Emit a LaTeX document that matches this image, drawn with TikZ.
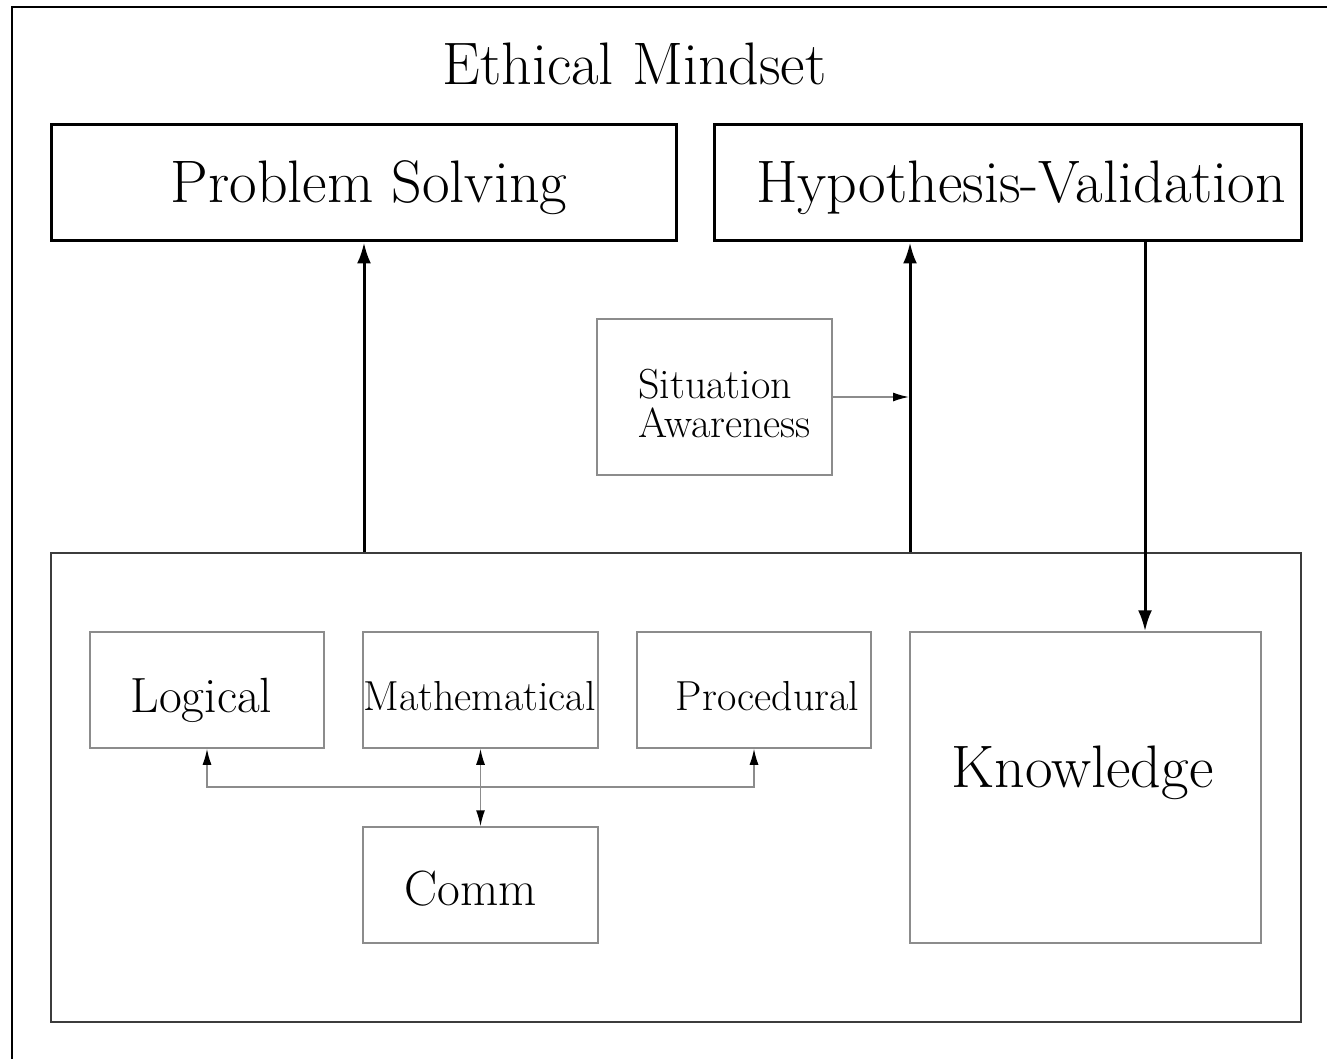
\documentclass[tikz,border=0pt]{standalone}
\usetikzlibrary{arrows.meta}
\definecolor{thingray}{HTML}{8C8C8C}
\definecolor{darkgray2}{HTML}{3C3C3C}
\begin{document}
\begin{tikzpicture}[x=1pt,y=-1pt,
  bigbox/.style={draw=black,line width=3pt,inner sep=0pt},
  thinbox/.style={draw=thingray,line width=1.5pt,inner sep=0pt},
  outerbox/.style={draw=darkgray2,line width=1.5pt,inner sep=0pt},
  bigtext/.style={anchor=base,inner sep=0pt,font=\fontsize{60}{64}\selectfont},
  midtext/.style={anchor=base,inner sep=0pt,font=\fontsize{49.5}{54}\selectfont},
  smalltext/.style={anchor=base,inner sep=0pt,font=\fontsize{42}{39}\selectfont},
  thickarrow/.style={line width=3pt,-{Latex[length=21pt,width=14pt]}},
  thinarrow/.style={draw=thingray,line width=1.5pt,-{Latex[length=16pt,width=9pt,color=black]}},
  boththin/.style={draw=thingray,line width=1.5pt,{Latex[length=16pt,width=9pt,color=black]}-{Latex[length=16pt,width=9pt,color=black]}}
]
\useasboundingbox (0,0) rectangle (1327,1059);
% outer frame (left and top edges visible)
\coordinate (frameBL) at (12,1059);
\coordinate (frameTL) at (12,7);
\coordinate (frameTR) at (1327,7);
\draw[line width=2pt] (frameBL) -- (frameTL) -- (frameTR);

\node[bigtext] (title) at (634.5,85) {Ethical Mindset};

% top boxes
\node[bigbox,minimum width=625pt,minimum height=116pt] (ps) at (363.5,183) {};
\node[bigtext] (pst) at (369,203) {Problem Solving};
\node[bigbox,minimum width=587pt,minimum height=116pt] (hv) at (1007.5,183) {};
\node[bigtext] (hvt) at (1021,203) {Hypothesis-Validation};

% situation awareness
\node[thinbox,minimum width=235pt,minimum height=156pt] (sa) at (714.5,397) {};
\node[smalltext,align=left,anchor=north west] (sat) at (638,368.5) {Situation\\Awareness};

% bottom container
\node[outerbox,minimum width=1250pt,minimum height=469pt] (bottom) at (676,787.5) {};

% inner boxes
\node[thinbox,minimum width=234pt,minimum height=116pt] (log) at (207,690) {};
\node[midtext] (logt) at (201.5,712) {Logical};
\node[thinbox,minimum width=235pt,minimum height=116pt] (math) at (480.5,690) {};
\node[smalltext] (matht) at (479.5,710) {Mathematical};
\node[thinbox,minimum width=234pt,minimum height=116pt] (proc) at (754,690) {};
\node[smalltext] (proct) at (767.5,710) {Procedural};
\node[thinbox,minimum width=235pt,minimum height=116pt] (comm) at (480.5,885) {};
\node[midtext] (commt) at (470.5,905) {Comm};
\node[thinbox,minimum width=351pt,minimum height=311pt] (know) at (1085.5,787.5) {};
\node[bigtext] (knowt) at (1082.5,787) {Knowledge};

% thick arrows
\draw[thickarrow] (364,0 |- bottom.north) -- (364,0 |- ps.south);
\draw[thickarrow] (910,0 |- bottom.north) -- (910,0 |- hv.south);
\draw[thickarrow] (1145,0 |- hv.south) -- (1145,0 |- know.north);

% situation awareness arrow
\coordinate (saarrow) at (909,397);
\draw[thinarrow] (sa.east) -- (saarrow);

% connectors among inner boxes
\coordinate (junc) at (480.5,787);
\draw[boththin] (comm.north) -- (math.south);
\draw[thinarrow] (junc) -| (log.south);
\draw[thinarrow] (junc) -| (proc.south);
\end{tikzpicture}
\end{document}
